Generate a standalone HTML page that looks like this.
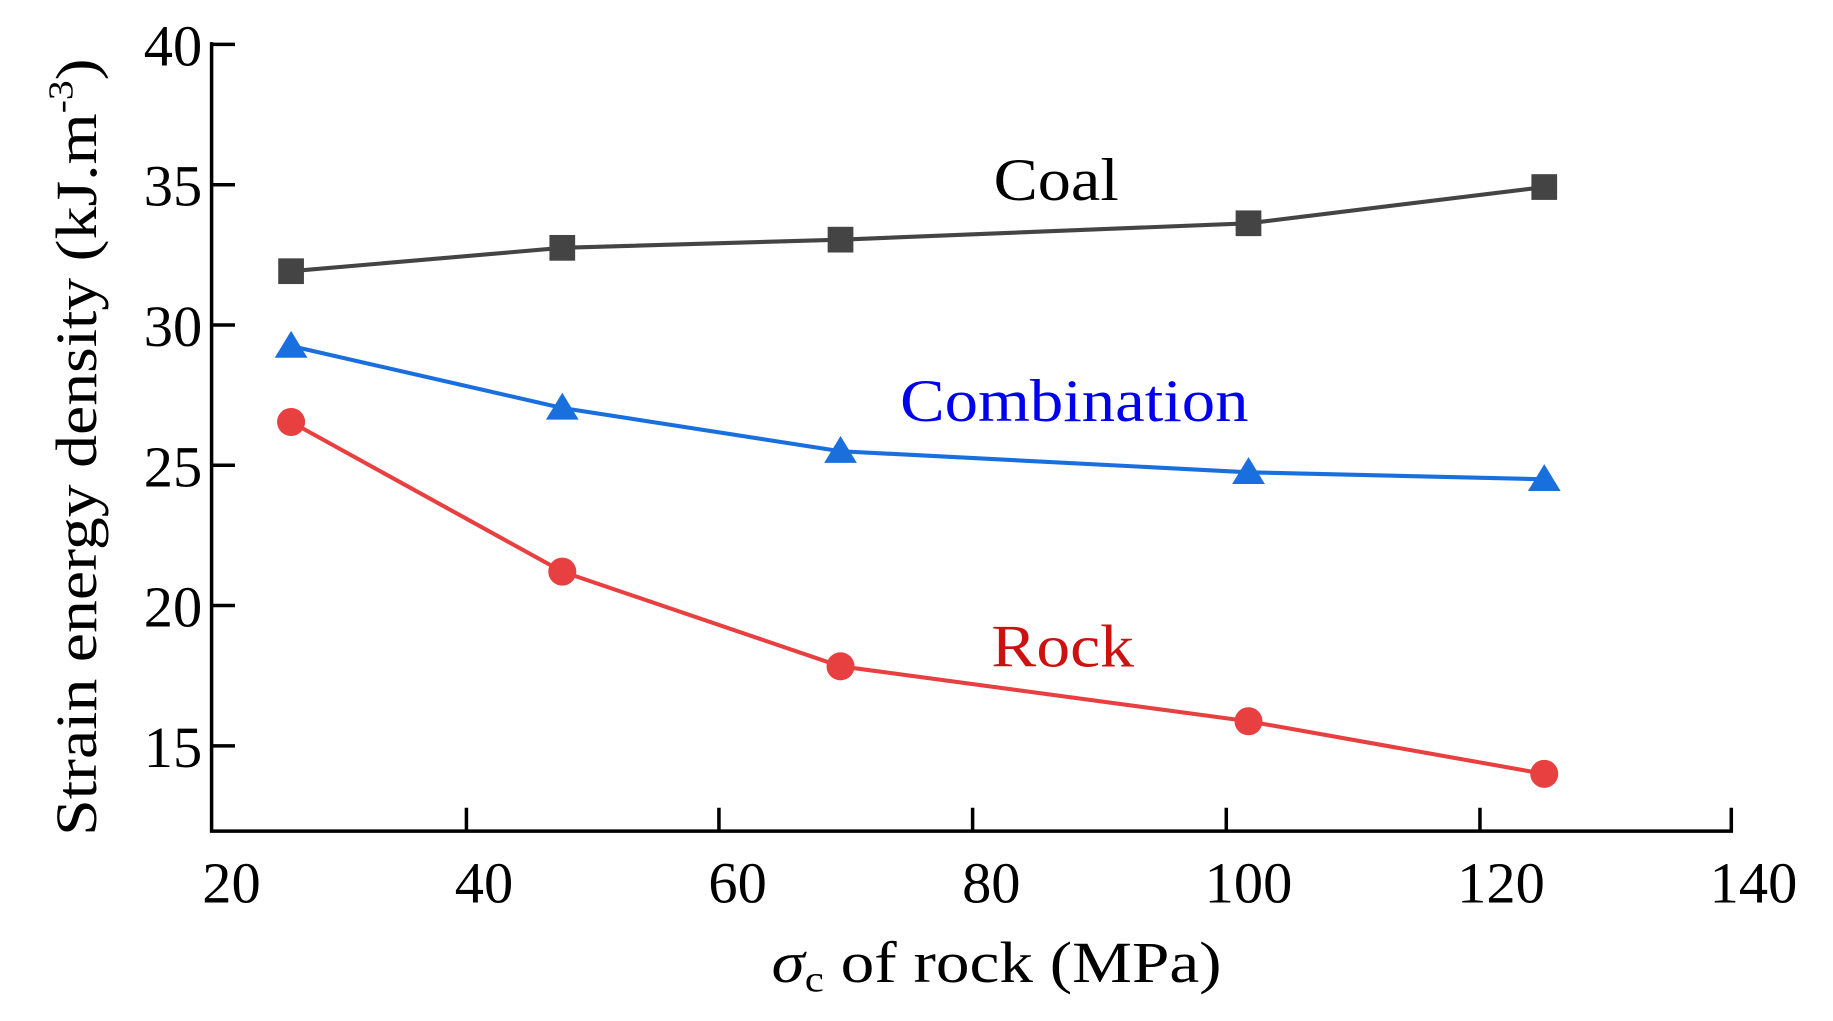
<!DOCTYPE html>
<html><head><style>html,body{margin:0;padding:0;background:#fff;}svg{display:block}</style></head>
<body>
<svg width="1833" height="1021" viewBox="0 0 1568 873.4" preserveAspectRatio="none" xmlns="http://www.w3.org/2000/svg" font-family="Liberation Serif, serif">
<g stroke="#000" stroke-width="3" fill="none">
<path d="M181,36 V711 H1481 V691"/>
<path d="M181,38 H201 M181,158 H201 M181,278 H201 M181,398 H201 M181,518 H201 M181,638 H201"/>
<path d="M399,711 V691 M615,711 V691 M832,711 V691 M1049,711 V691 M1266,711 V691"/>
</g>
<g font-size="50" text-anchor="end">
<text x="173" y="56">40</text><text x="173" y="176">35</text><text x="173" y="296">30</text>
<text x="173" y="416">25</text><text x="173" y="536">20</text><text x="173" y="656">15</text>
</g>
<g font-size="50" text-anchor="middle">
<text x="198" y="772">20</text><text x="414" y="772">40</text><text x="631" y="772">60</text>
<text x="848" y="772">80</text><text x="1068" y="772">100</text><text x="1284" y="772">120</text><text x="1500" y="772">140</text>
</g>
<text x="660" y="840" font-size="50" textLength="385" lengthAdjust="spacingAndGlyphs"><tspan font-style="italic">σ</tspan><tspan font-size="32" dy="8">c</tspan><tspan dy="-8"> of rock (MPa)</tspan></text>
<text transform="translate(82,715) rotate(-90)" font-size="50" textLength="665" lengthAdjust="spacingAndGlyphs">Strain energy density (kJ.m<tspan font-size="30" dy="-20">-3</tspan><tspan dy="20">)</tspan></text>
<polyline points="249,232 481,212 719,205 1068,191 1321,160" fill="none" stroke="#444" stroke-width="3.5"/>
<g fill="#444"><rect x="238" y="221" width="22" height="22"/><rect x="470" y="201" width="22" height="22"/><rect x="708" y="194" width="22" height="22"/><rect x="1057" y="180" width="22" height="22"/><rect x="1310" y="149" width="22" height="22"/></g>
<polyline points="249,296 481,349 719,386 1068,404 1321,410" fill="none" stroke="#1a6fdf" stroke-width="3.5"/>
<g fill="#1a6fdf"><path d="M249,283 L263,306 L235,306Z"/><path d="M481,336 L495,359 L467,359Z"/><path d="M719,373 L733,396 L705,396Z"/><path d="M1068,391 L1082,414 L1054,414Z"/><path d="M1321,397 L1335,420 L1307,420Z"/></g>
<polyline points="249,361 481,489 719,570 1068,617 1321,662" fill="none" stroke="#e84040" stroke-width="3.5"/>
<g fill="#e84040"><circle cx="249" cy="361" r="12"/><circle cx="481" cy="489" r="12"/><circle cx="719" cy="570" r="12"/><circle cx="1068" cy="617" r="12"/><circle cx="1321" cy="662" r="12"/></g>
<text x="850" y="171" font-size="52" textLength="107" lengthAdjust="spacingAndGlyphs">Coal</text>
<text x="770" y="360" font-size="52" textLength="298" lengthAdjust="spacingAndGlyphs" fill="#0000ee">Combination</text>
<text x="848" y="570" font-size="52" textLength="122" lengthAdjust="spacingAndGlyphs" fill="#cc1111">Rock</text>
</svg>
</body></html>
